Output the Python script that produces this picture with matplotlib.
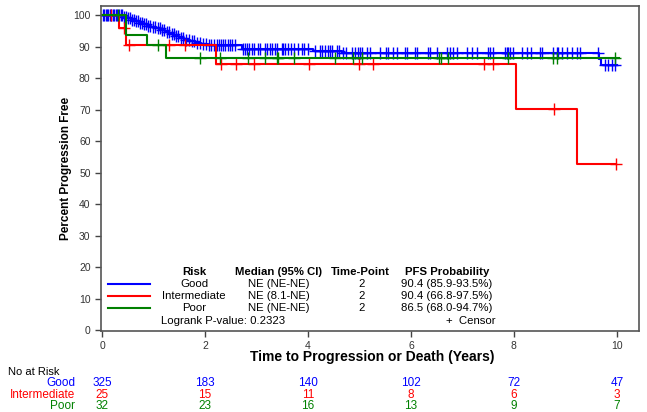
import numpy as np
import matplotlib
matplotlib.use('Agg')
import matplotlib.pyplot as plt
from matplotlib.lines import Line2D
from matplotlib import transforms

plt.rcParams['font.family'] = ['Liberation Sans', 'DejaVu Sans']

# Kaplan-Meier step data (event times, survival %)
good_t = [0, 0.40, 0.48, 0.56, 0.64, 0.72, 0.80, 0.88, 0.96, 1.05, 1.13, 1.22, 1.31,
          1.40, 1.50, 1.60, 1.70, 1.80, 1.92, 2.05, 2.72, 4.10, 4.66, 9.65, 9.69]
good_s = [100, 99.4, 99.1, 98.6, 98.1, 97.6, 97.2, 96.7, 96.3, 95.8, 95.2, 94.5, 93.9,
          93.3, 92.7, 92.2, 91.7, 91.3, 90.9, 90.4, 89.4, 88.5, 88.1, 86.2, 84.3]
good_end = 10.0
good_cens = [0.02, 0.04, 0.07, 0.09, 0.12, 0.15, 0.18, 0.21, 0.24, 0.27, 0.30, 0.33, 0.36, 0.39,
             0.43, 0.47, 0.51, 0.55, 0.59, 0.62, 0.66, 0.70, 0.74, 0.78, 0.82, 0.86, 0.90, 0.94,
             0.99, 1.03, 1.08, 1.12, 1.17, 1.21, 1.26, 1.30, 1.35, 1.39, 1.44, 1.48, 1.53, 1.57,
             1.63, 1.68, 1.74, 1.79, 1.85, 1.90, 1.96, 2.01, 2.07, 2.12, 2.17,
             2.23, 2.27, 2.31, 2.34, 2.39, 2.44, 2.49, 2.53, 2.58, 2.74, 2.78, 2.82, 2.86, 2.91,
             2.96, 3.02, 3.07, 3.17, 3.21, 3.26, 3.31, 3.36, 3.39, 3.49, 3.52, 3.55, 3.62, 3.67,
             3.73, 3.81, 3.88, 3.93, 4.01, 4.14, 4.23, 4.28, 4.33, 4.38, 4.43, 4.47, 4.56, 4.60,
             4.69, 4.73, 4.85, 4.91, 4.98, 5.02, 5.04, 5.14, 5.20, 5.40, 5.51, 5.56, 5.66, 5.72,
             5.88, 5.92, 6.08, 6.11, 6.34, 6.38, 6.50, 6.71, 6.76, 6.82, 6.89, 7.08, 7.18, 7.28,
             7.50, 7.53, 7.60, 7.83, 7.86, 7.89, 7.92, 7.99, 8.15, 8.25, 8.34, 8.50, 8.54, 8.75,
             8.83, 8.86, 8.93, 9.04, 9.12, 9.22, 9.28, 9.64, 9.77, 9.83, 9.90, 9.96]

int_t = [0, 0.32, 0.47, 2.21, 8.04, 9.22]
int_s = [100, 96.0, 90.4, 84.4, 70.3, 52.7]
int_end = 9.98
int_cens = [0.17, 0.43, 0.52, 1.30, 1.62, 2.31, 2.60, 2.95, 4.02, 4.99, 5.26, 7.42, 7.59, 8.78, 9.98]

poor_t = [0, 0.46, 0.87, 1.25]
poor_s = [100, 93.8, 90.6, 86.5]
poor_end = 10.05
poor_cens = [0.31, 1.09, 1.90, 2.29, 2.84, 3.17, 3.40, 3.42, 3.72, 4.52, 4.87, 5.04,
             6.54, 6.58, 6.72, 7.88, 8.76, 8.83, 9.97]

groups = ['Good', 'Intermediate', 'Poor']
colors = ['#0000FF', '#FF0000', '#008000']
medians = ['NE (NE-NE)', 'NE (8.1-NE)', 'NE (NE-NE)']
timepoints = ['2', '2', '2']
pfs = ['90.4 (85.9-93.5%)', '90.4 (66.8-97.5%)', '86.5 (68.0-94.7%)']
logrank = 'Logrank P-value: 0.2323'

risk_times = [0, 2, 4, 6, 8, 10]
at_risk = {
    'Good': [325, 183, 140, 102, 72, 47],
    'Intermediate': [25, 15, 11, 8, 6, 3],
    'Poor': [32, 23, 16, 13, 9, 7],
}

W, H = 647, 412
fig = plt.figure(figsize=(W / 100, H / 100), dpi=100)
ax = fig.add_axes([101 / W, 1 - 331 / H, 538 / W, 325 / H])

curves = [(good_t, good_s, good_end, good_cens),
          (int_t, int_s, int_end, int_cens),
          (poor_t, poor_s, poor_end, poor_cens)]

for (t, s, tend, cens), c in zip(curves, colors):
    t = np.array(t)
    s = np.array(s)
    ax.step(np.append(t, tend), np.append(s, s[-1]), where='post', color=c, lw=1.5)
    cens = np.array(cens)
    cs = s[np.searchsorted(t, cens, side='right') - 1]
    ax.plot(cens, cs, ls='none', marker='+', ms=8, mew=1.0, color=c)

ax.set_xlim(-0.02, 10.43)
ax.set_ylim(-0.3, 102.9)
ax.set_xticks(range(0, 11, 2))
ax.set_yticks(range(0, 101, 10))
ax.tick_params(direction='out', length=4, width=1, colors='#444444',
               labelsize=7.5, labelcolor='#333333')
for sp in ax.spines.values():
    sp.set_color('#555555')
    sp.set_linewidth(1.2)

fig.text(66 / W, 1 - 168 / H, 'Percent Progression Free', rotation=90,
         ha='center', va='center', fontsize=8.5, fontweight='bold')
fig.text(372 / W, 1 - 357 / H, 'Time to Progression or Death (Years)',
         ha='center', va='center', fontsize=10, fontweight='bold')

# legend table inside the plot
def fy(py):
    return 1 - py / H

fs = 8.2
fig.text(194 / W, fy(272), 'Risk', ha='center', va='center', fontsize=fs, fontweight='bold')
fig.text(279 / W, fy(272), 'Median (95% CI)', ha='center', va='center', fontsize=fs, fontweight='bold')
fig.text(360 / W, fy(272), 'Time-Point', ha='center', va='center', fontsize=fs, fontweight='bold')
fig.text(447 / W, fy(272), 'PFS Probability', ha='center', va='center', fontsize=fs, fontweight='bold')
for i, g in enumerate(groups):
    py = 284 + 12 * i
    fig.add_artist(Line2D([108 / W, 150 / W], [fy(py), fy(py)], color=colors[i], lw=1.5))
    fig.text(194 / W, fy(py), g, ha='center', va='center', fontsize=fs)
    fig.text(279 / W, fy(py), medians[i], ha='center', va='center', fontsize=fs)
    fig.text(362 / W, fy(py), timepoints[i], ha='center', va='center', fontsize=fs)
    fig.text(447 / W, fy(py), pfs[i], ha='center', va='center', fontsize=fs)
fig.text(161 / W, fy(321), logrank, ha='left', va='center', fontsize=fs)
fig.text(496 / W, fy(321), '+  Censor', ha='right', va='center', fontsize=fs)

# number at risk table
tr = transforms.blended_transform_factory(ax.transData, fig.transFigure)
fig.text(8 / W, fy(372), 'No at Risk', ha='left', va='center', fontsize=8)
for i, g in enumerate(groups):
    py = 383 + 11.5 * i
    fig.text(75 / W, fy(py), g, ha='right', va='center', fontsize=8.5, color=colors[i])
    for x, n in zip(risk_times, at_risk[g]):
        ax.text(x, fy(py), str(n), transform=tr, ha='center', va='center',
                fontsize=8.5, color=colors[i])

fig.savefig('out.png', dpi=100)
